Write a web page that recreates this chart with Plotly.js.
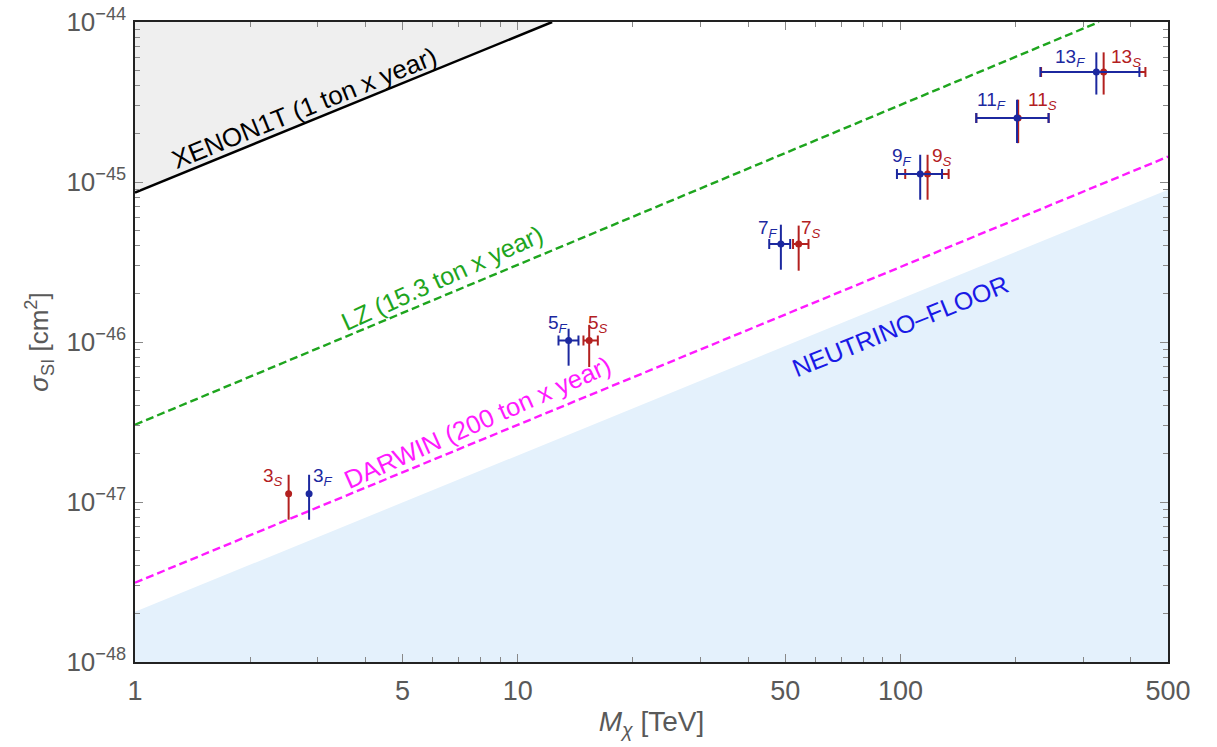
<!DOCTYPE html>
<html><head><meta charset="utf-8">
<script src="https://cdn.plot.ly/plotly-3.0.1.min.js"></script>
<style>html,body{margin:0;padding:0;background:#fff}#plot{width:1217px;height:747px}</style>
</head><body><div id="plot"></div>
<script>
// ---------- data ----------
// exclusion / projection lines (M in TeV, sigma in cm^2)
const xenonM = [1, 12.3];
const xenonS = [8.6e-46, 1e-44];
const lzM = [1, 330];
const lzS = [3.04e-47, 1e-44];
const darwinM = [1, 500];
const darwinS = [3.13e-48, 1.44e-45];
const nuM = [1, 500];
const nuS = [2.06e-48, 8.95e-46];

// benchmark points: F (blue) and S (red)
const fLabels = ['3', '5', '7', '9', '11', '13'];
const fM     = [2.85, 13.58, 48.7, 112.6, 201.6, 324.9];
const fMlo   = [2.85, 12.78, 45.4, 97.9, 157.8, 232];
const fMhi   = [2.85, 14.41, 51.5, 128.4, 243.8, 421];
const fS     = [1.127e-47, 1.023e-46, 4.10e-46, 1.122e-45, 2.51e-45, 4.87e-45];
const fSlo   = [7.75e-48, 7.11e-47, 2.83e-46, 7.75e-46, 1.75e-45, 3.52e-45];
const fShi   = [1.48e-47, 1.21e-46, 5.41e-46, 1.48e-45, 3.27e-45, 6.46e-45];

const sLabels = ['3', '5', '7', '9', '11', '13'];
const sM     = [2.52, 15.37, 54.2, 117.7, 203, 339.5];
const sMlo   = [2.52, 14.85, 52.4, 102.9, 157.8, 233];
const sMhi   = [2.52, 16.19, 57.5, 133.6, 243.8, 436.5];
const sS     = [1.127e-47, 1.023e-46, 4.10e-46, 1.122e-45, 2.51e-45, 4.87e-45];
const sSlo   = [7.75e-48, 6.98e-47, 2.79e-46, 7.75e-46, 1.75e-45, 3.52e-45];
const sShi   = [1.48e-47, 1.28e-46, 5.34e-46, 1.48e-45, 3.27e-45, 6.46e-45];

const xTickVals = [1, 5, 10, 50, 100, 500];
const xTickText = ['1', '5', '10', '50', '100', '500'];
const yTickVals = [1e-48, 1e-47, 1e-46, 1e-45, 1e-44];
const yExp = ['48', '47', '46', '45', '44'];

// ---------- style ----------
const BLUE = '#1c289f', RED = '#b3201f', GRAY = '#595959';
const FONT = 'Liberation Sans, Arial, sans-serif';

const traces = [];
traces.push({x: [nuM[0], nuM[1], nuM[1], nuM[0]], y: [nuS[0], nuS[1], 1e-49, 1e-49],
  mode: 'lines', fill: 'toself', fillcolor: '#e4f1fc', line: {width: 0, color: 'rgba(0,0,0,0)'}, hoverinfo: 'skip'});
traces.push({x: [xenonM[0], xenonM[1], xenonM[0]], y: [xenonS[0], xenonS[1], xenonS[1]],
  mode: 'lines', fill: 'toself', fillcolor: '#efefef', line: {width: 0, color: 'rgba(0,0,0,0)'}, hoverinfo: 'skip'});
traces.push({x: xenonM, y: xenonS, mode: 'lines', line: {color: '#000', width: 2.5}});
traces.push({x: lzM, y: lzS, mode: 'lines', line: {color: '#1ea51e', width: 2.4, dash: '8px,4px'}});
traces.push({x: darwinM, y: darwinS, mode: 'lines', line: {color: '#ff1aff', width: 2.4, dash: '8px,4px'}});

function addPoints(M, Mlo, Mhi, S, Slo, Shi, color) {
  for (let i = 0; i < M.length; i++) {
    const hasX = Mhi[i] > Mlo[i];
    const t = {x: [M[i]], y: [S[i]], mode: 'markers',
      marker: {color: color, size: 7},
      error_y: {type: 'data', symmetric: false, array: [Shi[i] - S[i]], arrayminus: [S[i] - Slo[i]],
                color: color, thickness: 2, width: 0}};
    if (hasX) t.error_x = {type: 'data', symmetric: false, array: [Mhi[i] - M[i]], arrayminus: [M[i] - Mlo[i]],
                color: color, thickness: 2, width: 5};
    traces.push(t);
  }
}
addPoints(sM, sMlo, sMhi, sS, sSlo, sShi, RED);
addPoints(fM, fMlo, fMhi, fS, fSlo, fShi, BLUE);

const L = Math.log10;
const ann = [];
const fOff = [['left', 2, 17], ['right', 1, 16], ['right', -1, 15], ['right', -6, 17], ['right', -9, 17], ['right', -9, 14]];
const sOff = [['right', -4, 17], ['left', -3, 16], ['left', 0, 15], ['left', 2, 17], ['left', 8, 17], ['left', 5, 14]];
fLabels.forEach((lab, i) => ann.push({x: L(fM[i]), y: L(fS[i]), xref: 'x', yref: 'y', showarrow: false,
  text: lab + '<sub><i>F</i></sub>', font: {family: FONT, size: 19, color: BLUE},
  xanchor: fOff[i][0], yanchor: 'middle', xshift: fOff[i][1], yshift: fOff[i][2]}));
sLabels.forEach((lab, i) => ann.push({x: L(sM[i]), y: L(sS[i]), xref: 'x', yref: 'y', showarrow: false,
  text: lab + '<sub><i>S</i></sub>', font: {family: FONT, size: 19, color: RED},
  xanchor: sOff[i][0], yanchor: 'middle', xshift: sOff[i][1], yshift: sOff[i][2]}));

const lineLabel = (text, x, y, color, ang, dx, dy, sz) => ({xref: 'paper', yref: 'paper', x: x, y: y, text: text, showarrow: false,
  textangle: ang, font: {family: FONT, size: sz, color: color}, xanchor: 'center', yanchor: 'middle', xshift: dx, yshift: dy});
ann.push(lineLabel('XENON1T (1 ton x year)', 0.1646, 0.859, '#000', -22, -1, 4, 26));
ann.push(lineLabel('LZ (15.3 ton x year)', 0.298, 0.592, '#1ea51e', -24.5, -1, 5, 25));
ann.push(lineLabel('DARWIN (200 ton x year)', 0.332, 0.366, '#ff1aff', -24, 0, 6, 25.5));
ann.push(lineLabel('NEUTRINO\u2013FLOOR', 0.7425, 0.522, '#1a1ae6', -22, -2, 2, 25));

const minorX = [2,3,4,6,7,8,9,20,30,40,60,70,80,90,200,300,400];
const minorY = [];
for (let e = -48; e < -44; e++) for (let k = 2; k <= 9; k++) minorY.push(k * Math.pow(10, e));

const axisCommon = {showgrid: false, zeroline: false, showline: true, linecolor: '#222', linewidth: 1.6,
  mirror: 'allticks', ticks: 'inside', ticklen: 8, tickwidth: 1, tickcolor: '#888'};

const layout = {
  width: 1217, height: 747,
  margin: {l: 135, r: 49, t: 22, b: 85},
  paper_bgcolor: '#fff', plot_bgcolor: '#fff',
  showlegend: false,
  xaxis: Object.assign({}, axisCommon, {type: 'log', range: [0, L(500)],
    tickmode: 'array', tickvals: xTickVals, ticktext: xTickText, ticklabelstandoff: 4,
    tickfont: {family: FONT, size: 27, color: GRAY},
    minor: {tickmode: 'array', tickvals: minorX, ticks: 'inside', ticklen: 5, tickcolor: '#888'},
    title: {text: '<i>M</i><sub><i>\u03c7</i></sub> [TeV]', font: {family: FONT, size: 28, color: GRAY}, standoff: 6}}),
  yaxis: Object.assign({}, axisCommon, {type: 'log', range: [-48, -44],
    tickmode: 'array', tickvals: yTickVals,
    ticktext: yExp.map(e => '10<sup>\u2212' + e + '</sup>'), ticklabelstandoff: 2,
    tickfont: {family: FONT, size: 26, color: GRAY},
    minor: {tickmode: 'array', tickvals: minorY, ticks: 'inside', ticklen: 5, tickcolor: '#888'},
    title: {text: '<i>\u03c3</i><sub>SI</sub> [cm<sup>2</sup>]', font: {family: FONT, size: 26, color: GRAY}, standoff: 10}}),
  annotations: ann
};

Plotly.newPlot('plot', traces, layout, {staticPlot: true, displayModeBar: false});
</script></body></html>
